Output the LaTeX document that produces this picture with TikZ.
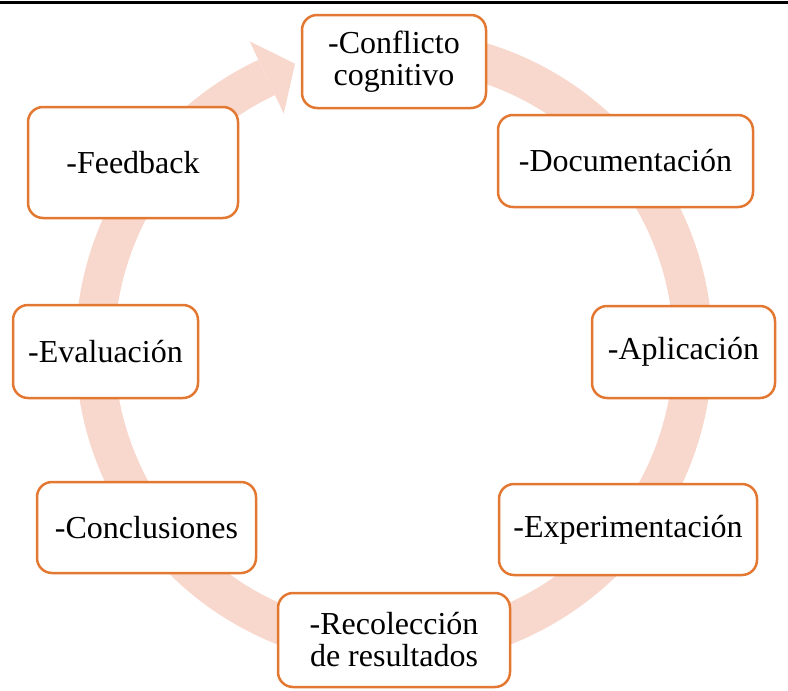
\documentclass[tikz,border=0pt]{standalone}
\usepackage{fontspec}
\setmainfont{Liberation Serif}
\usetikzlibrary{positioning}

\begin{document}
\begin{tikzpicture}[x=0.5pt,y=0.5pt]
        % Define some colors for convenience
        \definecolor{stageedge}{RGB}{226,120,50} % box border color
        \definecolor{ringcolor}{RGB}{248,215,204} % cycle ring color
        \tikzset{
          stage/.style={draw=stageedge, line width=1.25pt, fill=white,
            rounded corners=7.5pt, align=center, inner sep=0pt,
            font=\fontsize{16}{16}\selectfont}
        }
        \useasboundingbox (0,0) rectangle (788,-691);

        % Top rule
        \draw[line width=1.5pt] (0,-2) -- (788,-2);

        % Cycle ring with arrow head
        \begin{scope}[shift={(394,-348)}]
          \draw[ringcolor, line width=19.5pt] (80:299) arc[start angle=80, end angle=-244.8, radius=299]; % ring body
          \fill[ringcolor] (115.2:339) -- (109.2:301) -- (115.2:259) -- cycle; % arrow head
        \end{scope}

        % Stages
        \node[stage, minimum width=92pt, minimum height=46.5pt] (conflicto) at (394,-61.5) {-Conflicto\\cognitivo}; % top
        \node[stage, minimum width=127.5pt, minimum height=46pt] (documentacion) at (625.5,-161) {-Documentación};
        \node[stage, minimum width=91.5pt, minimum height=46pt] (aplicacion) at (683.5,-352) {-Aplicación};
        \node[stage, minimum width=129pt, minimum height=45.5pt] (experimentacion) at (628,-529.5) {-Experimentación};
        \node[stage, minimum width=116pt, minimum height=47pt] (recoleccion) at (394,-640) {-Recolección\\de resultados}; % bottom
        \node[stage, minimum width=109.5pt, minimum height=45.5pt] (conclusiones) at (146.5,-527.5) {-Conclusiones};
        \node[stage, minimum width=92.5pt, minimum height=46.5pt] (evaluacion) at (105.5,-351.5) {-Evaluación};
        \node[stage, minimum width=105pt, minimum height=55.5pt] (feedback) at (133,-162.5) {-Feedback};
\end{tikzpicture}
\end{document}
